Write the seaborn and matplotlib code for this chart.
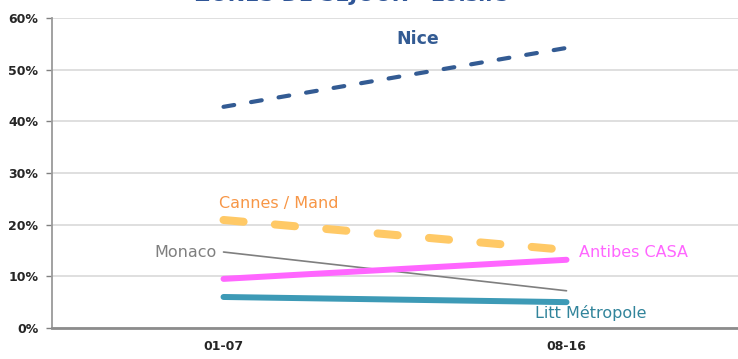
import numpy as np
import pandas as pd
import matplotlib
matplotlib.use("Agg")
import matplotlib.pyplot as plt
import seaborn as sns

# DATA
periods = ["01-07", "08-16"]
nice = [42.8, 54.2]
cannes = [20.9, 15.1]
monaco = [14.7, 7.2]
antibes = [9.5, 13.2]
litt = [6.0, 5.0]
title = "ZONES DE SEJOUR - Loisirs"

series = {
    "Nice": nice,
    "Cannes / Mand": cannes,
    "Monaco": monaco,
    "Antibes CASA": antibes,
    "Litt Métropole": litt,
}
rows = []
for name, vals in series.items():
    for i, v in enumerate(vals):
        rows.append({"zone": name, "pos": i, "pct": v})
df = pd.DataFrame(rows)

sns.set_style("white")
plt.rcParams["font.family"] = ["DejaVu Sans"]

fig = plt.figure(figsize=(7.38, 3.59), dpi=100)
ax = fig.add_axes([0.0705, 0.0864, 0.9295, 0.8636])

# line styles
styles = {
    "Nice": dict(color="#335b93", lw=3.0, dashes=(2.6, 4.1), cap="round"),
    "Cannes / Mand": dict(color="#ffc966", lw=5.8, dashes=(2.5, 3.9), cap="round"),
    "Monaco": dict(color="#7f7f7f", lw=1.2, dashes=None, cap="round"),
    "Antibes CASA": dict(color="#ff66ff", lw=4.3, dashes=None, cap="round"),
    "Litt Métropole": dict(color="#3d9ab6", lw=4.3, dashes=None, cap="round"),
}
for name in ["Litt Métropole", "Monaco", "Antibes CASA", "Cannes / Mand", "Nice"]:
    st = styles[name]
    sub = df[df["zone"] == name]
    sns.lineplot(data=sub, x="pos", y="pct", ax=ax, color=st["color"], lw=st["lw"],
                 legend=False)
    ln = ax.lines[-1]
    if st["dashes"] is not None:
        ln.set_dashes(st["dashes"])
        ln.set_dash_capstyle(st["cap"])
    ln.set_solid_capstyle(st["cap"])

# AXES
ax.set_xlim(-0.5, 1.5)
ax.set_ylim(0, 60)
ax.set_yticks(np.arange(0, 61, 10))
ax.set_yticklabels([f"{v}%" for v in range(0, 61, 10)], fontsize=9, fontweight="bold")
ax.set_xticks([0, 1])
ax.set_xticklabels(periods, fontsize=9, fontweight="bold")
ax.set_xticks([-0.5, 0.5, 1.5], minor=True)
ax.tick_params(axis="x", which="major", length=0, pad=9)
ax.tick_params(axis="x", which="minor", length=4, color="#808080", width=1)
ax.tick_params(axis="y", length=4, color="#808080", width=1, pad=6, left=True)
ax.set_xlabel("")
ax.set_ylabel("")
ax.grid(axis="y", color="#d9d9d9", lw=1.2)
ax.set_axisbelow(True)
for s in ["top", "right"]:
    ax.spines[s].set_visible(False)
ax.spines["left"].set_color("#9a9a9a")
ax.spines["left"].set_linewidth(1.3)
ax.spines["bottom"].set_color("#8c8c8c")
ax.spines["bottom"].set_linewidth(2)

# LABELS
ax.text(0.565, 56.0, "Nice", color="#335b93", fontsize=12.5, fontweight="bold", ha="center", va="center")
ax.text(0.16, 24.0, "Cannes / Mand", color="#f79646", fontsize=11.5, ha="center", va="center")
ax.text(-0.02, 14.7, "Monaco", color="#7f7f7f", fontsize=11.5, ha="right", va="center")
ax.text(1.035, 14.7, "Antibes CASA", color="#ff66ff", fontsize=11.5, ha="left", va="center")
ax.text(1.07, 2.9, "Litt Métropole", color="#31849b", fontsize=11.5, ha="center", va="center")

# cut-off title (only its lower edge shows in the reference)
fig.text(0.477, 1.014, title, color="#2f5597", fontsize=15, fontweight="bold", ha="center", va="center")

fig.savefig("out.png", dpi=100)
